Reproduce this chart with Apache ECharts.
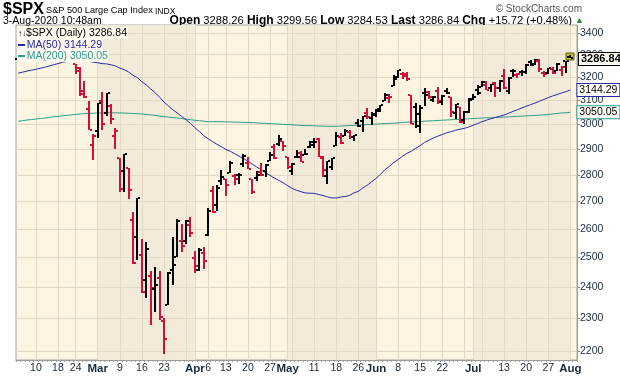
<!DOCTYPE html>
<html>
<head>
<meta charset="utf-8">
<script src="https://cdn.jsdelivr.net/npm/echarts@6/dist/echarts.min.js"></script>
<style>
html,body{margin:0;padding:0;background:#fff;}
#chart{width:620px;height:376px;}
</style>
</head>
<body>
<div id="chart"></div>
<script>
// trading days, Feb 4 - Aug 3 2020 (one empty slot after the last bar)
var days = [
	'02-04','02-05','02-06','02-07','02-10','02-11','02-12','02-13','02-14','02-18','02-19','02-20','02-21','02-24','02-25','02-26','02-27','02-28',
	'03-02','03-03','03-04','03-05','03-06','03-09','03-10','03-11','03-12','03-13','03-16','03-17','03-18','03-19','03-20','03-23','03-24','03-25','03-26','03-27','03-30','03-31',
	'04-01','04-02','04-03','04-06','04-07','04-08','04-09','04-13','04-14','04-15','04-16','04-17','04-20','04-21','04-22','04-23','04-24','04-27','04-28','04-29','04-30',
	'05-01','05-04','05-05','05-06','05-07','05-08','05-11','05-12','05-13','05-14','05-15','05-18','05-19','05-20','05-21','05-22','05-26','05-27','05-28','05-29',
	'06-01','06-02','06-03','06-04','06-05','06-08','06-09','06-10','06-11','06-12','06-15','06-16','06-17','06-18','06-19','06-22','06-23','06-24','06-25','06-26','06-29','06-30',
	'07-01','07-02','07-06','07-07','07-08','07-09','07-10','07-13','07-14','07-15','07-16','07-17','07-20','07-21','07-22','07-23','07-24','07-27','07-28','07-29','07-30','07-31',
	'08-03'
];
var padDay = '08-04';

var opens = [
	3280.61,3324.91,3344.92,3335.54,3318.28,3365.87,3370.50,3365.90,3378.08,3369.04,3380.39,3380.45,3360.50,3257.61,3238.94,3139.90,3062.54,2916.90,
	2974.28,3096.46,3045.75,3075.70,2954.20,2863.89,2813.48,2825.60,2630.86,2569.99,2508.59,2425.66,2436.50,2393.48,2431.94,2290.71,2344.44,2457.77,2501.29,2555.87,2558.98,2614.69,
	2498.08,2458.54,2514.92,2578.28,2738.65,2685.00,2776.99,2782.46,2805.10,2795.64,2799.34,2842.43,2845.62,2784.81,2787.89,2810.42,2812.64,2854.65,2909.96,2918.46,2930.91,
	2869.09,2815.01,2868.88,2883.14,2878.26,2908.83,2915.46,2939.50,2865.86,2794.54,2829.95,2913.86,2948.59,2953.63,2969.95,2948.05,3004.08,3015.65,3046.61,3025.17,
	3038.78,3064.78,3098.90,3111.56,3163.84,3199.92,3213.32,3213.42,3123.53,3071.04,2993.76,3131.00,3136.13,3101.64,3140.29,3094.42,3138.70,3114.40,3046.60,3073.20,3018.59,3050.20,
	3105.92,3143.64,3155.29,3166.44,3153.07,3176.17,3152.47,3205.08,3141.11,3225.98,3208.36,3224.21,3224.29,3268.52,3254.86,3271.64,3218.58,3219.84,3234.27,3227.22,3231.76,3270.45,
	3288.26
];
var highs = [
	3306.92,3337.58,3347.96,3341.42,3352.26,3375.63,3381.47,3385.09,3380.69,3375.01,3393.52,3385.15,3360.76,3259.81,3246.99,3182.51,3097.07,2959.72,
	3090.96,3136.72,3130.97,3083.04,2985.93,2863.89,2882.59,2825.60,2660.95,2711.33,2562.98,2553.93,2453.57,2466.97,2453.01,2300.73,2449.71,2571.42,2637.01,2615.91,2631.80,2641.39,
	2522.75,2533.22,2538.18,2676.85,2756.89,2760.75,2818.57,2782.46,2851.85,2801.88,2806.51,2879.22,2868.98,2785.54,2815.10,2844.90,2842.71,2887.72,2921.15,2954.86,2930.91,
	2869.09,2844.24,2898.23,2891.11,2901.92,2932.16,2944.25,2945.82,2874.14,2852.80,2865.01,2968.09,2964.21,2980.29,2978.50,2956.76,3021.72,3036.25,3068.67,3049.17,
	3062.18,3081.07,3130.94,3128.91,3211.72,3233.13,3222.71,3223.27,3123.53,3088.42,3079.76,3153.45,3141.16,3120.00,3155.53,3120.92,3154.90,3115.01,3086.25,3073.73,3053.89,3111.51,
	3128.44,3165.81,3182.59,3184.15,3171.80,3179.78,3186.82,3235.32,3200.95,3238.28,3220.39,3233.52,3258.61,3277.29,3279.32,3279.99,3227.26,3241.43,3243.72,3264.74,3250.92,3272.17,
	3299.56
];
var lows = [
	3280.61,3313.75,3334.39,3322.12,3317.77,3352.72,3369.72,3360.52,3366.15,3355.61,3378.83,3350.64,3328.45,3214.65,3118.77,3108.99,2977.39,2855.84,
	2945.19,2976.63,3034.38,2999.83,2901.54,2734.43,2734.00,2707.22,2478.86,2492.37,2380.94,2367.04,2280.52,2319.78,2295.56,2191.86,2344.44,2407.53,2500.72,2520.02,2545.28,2571.15,
	2447.49,2455.79,2459.96,2574.57,2657.67,2663.30,2762.36,2721.17,2805.10,2761.54,2764.32,2830.88,2820.43,2727.10,2775.95,2794.26,2791.76,2852.89,2860.71,2912.16,2892.47,
	2821.61,2797.85,2863.55,2847.65,2876.48,2902.88,2903.44,2869.59,2793.15,2766.64,2816.78,2913.86,2922.35,2953.63,2938.57,2933.59,2988.17,2969.75,3023.40,2998.61,
	3031.54,3051.64,3098.90,3090.41,3163.84,3196.00,3193.11,3181.49,2999.49,2984.47,2965.66,3076.06,3108.03,3093.51,3083.11,3079.39,3127.12,3032.13,3024.01,3004.63,2999.74,3047.83,
	3101.17,3124.52,3155.29,3142.93,3136.53,3115.70,3136.22,3149.43,3127.66,3200.76,3198.59,3205.65,3215.16,3247.77,3253.10,3222.66,3200.05,3214.25,3216.17,3227.22,3204.13,3220.26,
	3284.53
];
var closes = [
	3297.59,3334.69,3345.78,3327.71,3352.09,3357.75,3379.45,3373.94,3380.16,3370.29,3386.15,3373.23,3337.75,3225.89,3128.21,3116.39,2978.76,2954.22,
	3090.23,3003.37,3130.12,3023.94,2972.37,2746.56,2882.23,2741.38,2480.64,2711.02,2386.13,2529.19,2398.10,2409.39,2304.92,2237.40,2447.33,2475.56,2630.07,2541.47,2626.65,2584.59,
	2470.50,2526.90,2488.65,2663.68,2659.41,2749.98,2789.82,2761.63,2846.06,2783.36,2799.55,2874.56,2823.16,2736.56,2799.31,2797.80,2836.74,2878.48,2863.39,2939.51,2912.43,
	2830.71,2842.74,2868.44,2848.42,2881.19,2929.80,2930.32,2870.12,2820.00,2852.50,2863.70,2953.91,2922.94,2971.61,2948.51,2955.45,2991.77,3036.13,3029.73,3044.31,
	3055.73,3080.82,3122.87,3112.35,3193.93,3232.39,3207.18,3190.14,3002.10,3041.31,3066.59,3124.74,3113.49,3115.34,3097.74,3117.86,3131.29,3050.33,3083.76,3009.05,3053.24,3100.29,
	3115.86,3130.01,3179.72,3145.32,3169.94,3152.05,3185.04,3155.22,3197.52,3226.56,3215.57,3224.73,3251.84,3257.30,3276.02,3235.66,3215.63,3239.41,3218.44,3258.44,3246.22,3271.12,
	3286.84
];
var prevClose = 3248.92;

var ma50 = [
	3217.67,3222.29,3227.00,3230.88,3235.11,3239.19,3243.96,3249.16,3254.90,3260.05,3265.42,3269.97,3274.01,3275.88,3275.61,3274.57,3270.77,3266.03,
	3263.98,3260.22,3258.71,3254.76,3249.73,3240.19,3233.04,3223.07,3208.26,3197.86,3180.43,3166.32,3149.36,3132.80,3113.84,3093.09,3076.73,3060.48,3047.42,3032.46,3018.66,3003.76,
	2986.75,2970.85,2954.11,2941.47,2929.79,2919.26,2909.59,2899.15,2891.56,2882.25,2872.29,2863.09,2852.64,2840.82,2829.76,2818.56,2807.71,2797.80,2787.46,2778.84,2769.37,
	2758.52,2748.62,2741.47,2735.87,2731.17,2730.19,2729.71,2725.31,2721.64,2716.09,2712.89,2712.52,2716.05,2717.84,2721.98,2731.48,2737.10,2750.10,2760.11,2773.03,
	2785.96,2801.48,2819.19,2832.49,2846.86,2858.91,2872.22,2883.49,2891.84,2903.26,2914.05,2926.77,2935.77,2944.89,2951.85,2958.41,2965.80,2969.89,2975.90,2980.09,2983.66,2989.20,
	2996.79,3003.40,3011.04,3017.21,3023.04,3028.81,3033.72,3038.58,3045.92,3053.60,3060.54,3068.07,3075.48,3082.03,3088.94,3096.25,3104.16,3111.90,3118.99,3125.08,3131.55,3137.54,
	3144.29
];
var ma200 = [
	3013,3015,3018,3020,3022,3024,3026,3029,3031,3033,3035,3037,3039,3041,3043,3044,3045,3046,
	3047,3047,3048,3048,3048,3047,3047,3046,3045,3044,3043,3041,3039,3037,3034,3032,3030,3028,3026,3024,3022,3019,
	3017,3015,3013,3011,3011,3011,3011,3010,3010,3009,3009,3008,3008,3007,3006,3005,3004,3003,3002,3001,3000,
	2999,2998,2997,2996,2995,2995,2994,2993,2993,2992,2992,2992,2993,2994,2995,2996,2997,2998,2999,3000,
	3001,3002,3003,3004,3005,3006,3008,3009,3010,3011,3012,3013,3014,3015,3016,3017,3018,3019,3020,3021,3022,3023,
	3024,3025,3026,3027,3027,3028,3029,3030,3031,3032,3033,3034,3035,3036,3037,3038,3039,3041,3043,3045,3047,3048,
	3050.05
];

var tickDays = ['02-10','02-18','02-24','03-02','03-09','03-16','03-23','04-01','04-06','04-13','04-20','04-27','05-01','05-11','05-18','05-26','06-01','06-08','06-15','06-22','07-01','07-13','07-20','07-27','08-03'];
var tickText = ['10','18','24','Mar','9','16','23','Apr','6','13','20','27','May','11','18','26','Jun','8','15','22','Jul','13','20','27','Aug'];
var extraGridDays = ['03-30','05-04','06-29','07-06'];
var shadedMonths = [['03-02','04-01'],['05-01','06-01'],['07-01','08-03']];
var yTicks = [2200,2300,2400,2500,2600,2700,2800,2900,3000,3100,3200,3300,3400];

var RED = '#d4103a';
var BLUE = '#2a2aa6';
var TEAL = '#2a9d8c';
var INK = '#1b2a38';
var FONT = 'Liberation Sans, Arial, sans-serif';
var last = closes.length - 1;

var bars = [];
for (var i = 0; i < closes.length; i++) {
	var pc = i > 0 ? closes[i-1] : prevClose;
	bars.push([i, opens[i], highs[i], lows[i], closes[i], closes[i] >= pc ? 1 : 0]);
}

function renderBar(params, api) {
	var i = api.value(0);
	var o = api.coord([i, api.value(1)]);
	var h = api.coord([i, api.value(2)]);
	var l = api.coord([i, api.value(3)]);
	var c = api.coord([i, api.value(4)]);
	var x = Math.round(o[0]);
	var top = Math.round(h[1]), bot = Math.round(l[1]);
	var color = api.value(5) ? '#000' : RED;
	var kids = [];
	if (params.dataIndex === last) {
		kids.push({type:'rect', shape:{x:x-4, y:top-2, width:8, height:bot-top+4}, style:{fill:'#c6c22a', stroke:'#5a5a10', lineWidth:1}});
	}
	kids.push({type:'rect', shape:{x:x-1, y:top, width:2, height:Math.max(2, bot-top)}, style:{fill:color}});
	kids.push({type:'rect', shape:{x:x-3, y:Math.round(o[1])-1, width:2, height:2}, style:{fill:color}});
	kids.push({type:'rect', shape:{x:x+1, y:Math.round(c[1])-1, width:2, height:2}, style:{fill:color}});
	if (params.dataIndex === last) {
		var cs = params.coordSys;
		kids.push({type:'text', z2:50, x:cs.x + cs.width + 2, y:Math.round(c[1]) + 1, style:{
			text: api.value(4).toFixed(2), font:'bold 11px ' + FONT, fill:'#000', verticalAlign:'middle',
			backgroundColor:'#fffdf6', borderColor:'#000', borderWidth:1, padding:[1,2,0,2]
		}});
	}
	return {type:'group', children:kids};
}

function fmt(v) { return v.toFixed(2); }

var vLines = tickDays.concat(extraGridDays).map(function(d){ return {xAxis:d}; });
var hLines = yTicks.map(function(v){ return {yAxis:v}; });
var bands = shadedMonths.map(function(m){ return [{xAxis:m[0]}, {xAxis:m[1]}]; });

var chg = closes[last] - closes[last-1];
var head2 = '{b|Open} ' + fmt(opens[last]) + ' {b|High} ' + fmt(highs[last]) + ' {b|Low} ' + fmt(lows[last]) +
	' {b|Last} ' + fmt(closes[last]) + ' {b|Chg} +' + fmt(chg) + ' (+' + (chg / closes[last-1] * 100).toFixed(2) + '%) {g|▲}';

var myChart = echarts.init(document.getElementById('chart'));
var option = {
	animation: false,
	backgroundColor: '#fff',
	textStyle: {fontFamily: FONT},
	grid: {left:16, right:43, top:25, bottom:16, show:true, backgroundColor:'#fcf5e2', borderColor:'#a4a4a4', borderWidth:1},
	xAxis: {
		type: 'category',
		data: days.concat([padDay]),
		boundaryGap: true,
		axisLine: {lineStyle:{color:'#9a9a9a'}},
		axisTick: {show:true, interval:0, length:2, lineStyle:{color:'#a0a0a0'}},
		axisLabel: {
			interval: function(idx, val){ return tickDays.indexOf(val) >= 0; },
			formatter: function(val){
				var t = tickText[tickDays.indexOf(val)];
				return isNaN(t) ? '{m|' + t + '}' : t;
			},
			fontSize: 10.5, color: INK, margin: 3,
			rich: {m:{fontWeight:'bold', fontSize:11.5, color:INK}}
		},
		splitLine: {show:false}
	},
	yAxis: {
		type: 'log',
		logBase: 10,
		position: 'right',
		min: 2173,
		max: 3437,
		axisLine: {show:true, lineStyle:{color:'#9a9a9a'}},
		axisTick: {show:true, length:3, customValues:yTicks, lineStyle:{color:'#8a8a8a'}},
		axisLabel: {customValues:yTicks, fontSize:10.5, color:INK, margin:3, formatter:function(v){ return String(Math.round(v)); }},
		splitLine: {show:false}
	},
	graphic: [
		{type:'text', x:3, y:2, style:{text:'$SPX', font:'bold 16px ' + FONT, fill:'#000'}},
		{type:'text', x:46, y:6, style:{text:'S&P 500 Large Cap Index', font:'9.2px ' + FONT, fill:'#000'}},
		{type:'text', x:155, y:7, style:{text:'INDX', font:'8.5px ' + FONT, fill:'#000'}},
		{type:'text', x:582, y:4, style:{text:'© StockCharts.com', font:'10px ' + FONT, fill:'#555', align:'right'}},
		{type:'text', x:3, y:16, style:{text:'3-Aug-2020 10:48am', font:'10.5px ' + FONT, fill:'#000'}},
		{type:'text', x:584, y:15, style:{text:head2, font:'11.2px ' + FONT, fill:'#000', align:'right',
			rich:{b:{fontWeight:'bold', fontSize:12, fill:'#000'}, g:{fill:'#2e8b3a', fontSize:9}}}},
		{type:'text', z:100, x:17, y:27, style:{text:'{i|↑↓}$SPX (Daily) ' + fmt(closes[last]), font:'10.5px ' + FONT, fill:'#000',
			backgroundColor:'#fefaf0', padding:[1,1,0,1], rich:{i:{fontSize:8, fontWeight:'bold', fill:'#000'}}}},
		{type:'text', z:100, x:17, y:39, style:{text:'   MA(50) ' + fmt(ma50[last]), font:'10.5px ' + FONT, fill:BLUE,
			backgroundColor:'#fefaf0', padding:[1,1,0,1]}},
		{type:'text', z:100, x:17, y:50, style:{text:'   MA(200) ' + fmt(ma200[last]), font:'10.5px ' + FONT, fill:TEAL,
			backgroundColor:'#fefaf0', padding:[1,1,0,1]}},
		{type:'rect', z:101, shape:{x:18, y:44, width:7, height:2}, style:{fill:BLUE}},
		{type:'rect', z:101, shape:{x:18, y:55, width:7, height:2}, style:{fill:TEAL}}
	],
	series: [
		{
			type: 'line', data: [], z: 0, silent: true,
			markArea: {silent:true, z:0, itemStyle:{color:'#f3ebd9'}, data:bands}
		},
		{
			type: 'line', data: [], z: 1, silent: true,
			markLine: {silent:true, z:1, symbol:['none','none'], label:{show:false}, lineStyle:{color:'#e2d9c5', width:1, type:'solid'}, data:vLines.concat(hLines)}
		},
		{
			name: 'MA(200)', type: 'line', data: ma200, z: 3, showSymbol: false, silent: true,
			lineStyle: {color:TEAL, width:1},
			endLabel: {show:true, distance:7, formatter:function(p){ return fmt(p.value); }, fontSize:10.5, color:'#000',
				backgroundColor:'#fffdf6', borderColor:TEAL, borderWidth:1, padding:[1,2,0,2]}
		},
		{
			name: 'MA(50)', type: 'line', data: ma50, z: 3, showSymbol: false, silent: true,
			lineStyle: {color:BLUE, width:1},
			endLabel: {show:true, distance:7, formatter:function(p){ return fmt(p.value); }, fontSize:10.5, color:'#000',
				backgroundColor:'#fffdf6', borderColor:BLUE, borderWidth:1, padding:[1,2,0,2]}
		},
		{
			name: '$SPX', type: 'custom', data: bars, z: 6, clip: false, silent: true,
			encode: {x:0, y:[1,2,3,4]},
			renderItem: renderBar
		}
	]
};
myChart.setOption(option);
</script>
</body>
</html>
